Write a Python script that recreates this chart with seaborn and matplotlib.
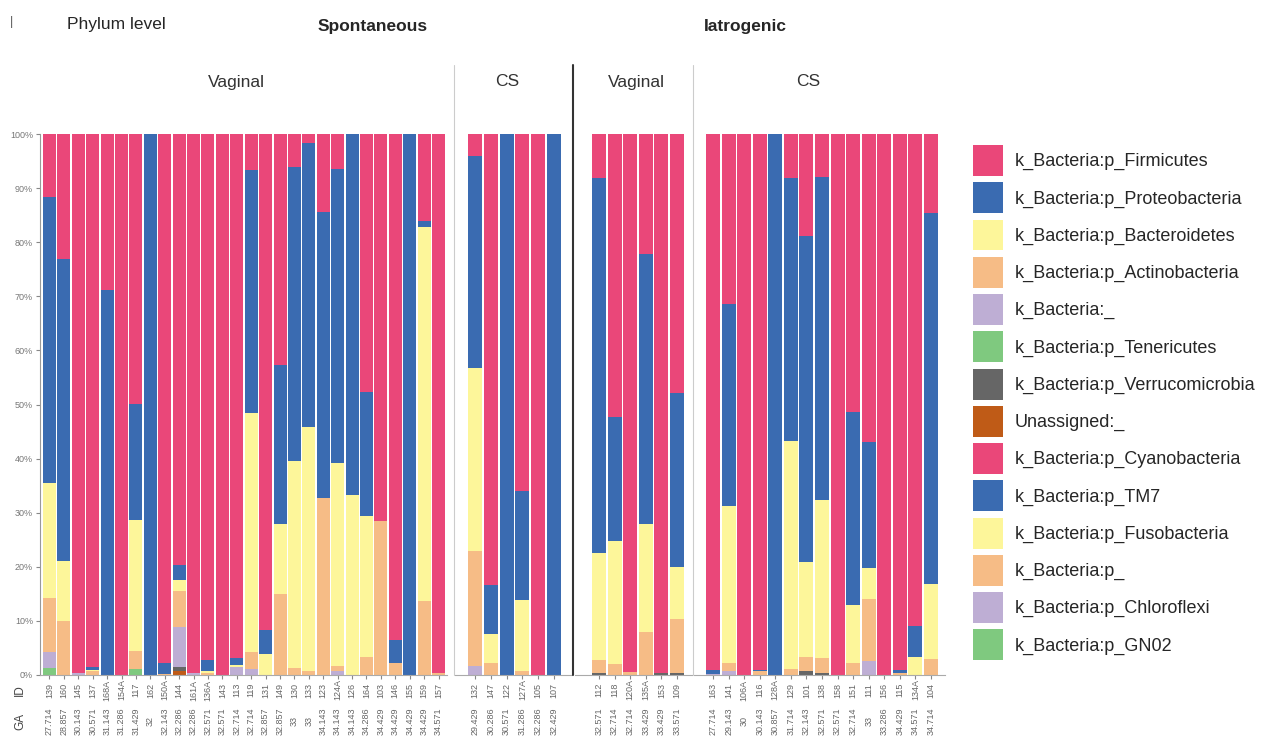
import matplotlib
matplotlib.use('Agg')
import matplotlib.pyplot as plt
import matplotlib.transforms as mtransforms
from matplotlib.lines import Line2D
from matplotlib.patches import Patch
import pandas as pd
import seaborn as sns

# sample IDs and gestational age (GA) for each facet
sv_ids = ['139', '160', '145', '137', '168A', '154A', '117', '162', '150A', '144', '161A', '136A', '143', '113',
          '119', '131', '149', '130', '133', '123', '124A', '126', '164', '103', '146', '155', '159', '157']
sv_ga = ['27.714', '28.857', '30.143', '30.571', '31.143', '31.286', '31.429', '32', '32.143', '32.286', '32.286',
         '32.571', '32.571', '32.714', '32.714', '32.857', '32.857', '33', '33', '34.143', '34.143', '34.143',
         '34.286', '34.429', '34.429', '34.429', '34.429', '34.571']
scs_ids = ['132', '147', '122', '127A', '105', '107']
scs_ga = ['29.429', '30.286', '30.571', '31.286', '32.286', '32.429']
iv_ids = ['112', '118', '120A', '135A', '153', '109']
iv_ga = ['32.571', '32.714', '32.714', '33.429', '33.429', '33.571']
ics_ids = ['163', '141', '106A', '116', '128A', '129', '101', '138', '158', '151', '111', '156', '115', '134A', '104']
ics_ga = ['27.714', '29.143', '30', '30.143', '30.857', '31.714', '32.143', '32.571', '32.571', '32.714', '33',
          '33.286', '34.429', '34.571', '34.714']

taxa = ['k_Bacteria:p_Firmicutes', 'k_Bacteria:p_Proteobacteria', 'k_Bacteria:p_Bacteroidetes',
        'k_Bacteria:p_Actinobacteria', 'k_Bacteria:_', 'k_Bacteria:p_Tenericutes',
        'k_Bacteria:p_Verrucomicrobia', 'Unassigned:_', 'k_Bacteria:p_Cyanobacteria', 'k_Bacteria:p_TM7',
        'k_Bacteria:p_Fusobacteria', 'k_Bacteria:p_', 'k_Bacteria:p_Chloroflexi', 'k_Bacteria:p_GN02']
colors = ['#EA4779', '#3A6BB1', '#FDF69A', '#F6BC86', '#BEAED4', '#7FC97F', '#666666', '#BF5B17',
          '#EA4779', '#3A6BB1', '#FDF69A', '#F6BC86', '#BEAED4', '#7FC97F']

# relative abundance (%) per sample, facets in order: spont vaginal / spont CS / iatro vaginal / iatro CS
firmicutes = [11.7, 23.1, 99.7, 98.5, 28.8, 100, 49.9, 0, 97.7, 79.7, 99.7, 97.2, 100, 96.8,
              6.6, 91.7, 42.7, 6.1, 1.6, 14.4, 6.4, 0, 47.6, 71.6, 93.5, 0, 16.1, 99.7,
              4.1, 83.3, 0, 65.9, 100, 0,
              8.1, 52.4, 99.5, 22.1, 99.7, 47.9,
              99.0, 31.5, 100, 99.0, 0, 8.1, 18.8, 7.9, 100, 51.3, 56.9, 100, 99.0, 90.9, 14.6]
proteobacteria = [52.8, 55.8, 0, 0.5, 71.2, 0, 21.5, 100, 2.1, 2.8, 0, 2.0, 0, 1.3,
                  45.0, 4.5, 29.4, 54.3, 52.6, 52.9, 54.4, 66.8, 23.0, 0, 4.2, 100, 1.0, 0,
                  39.2, 9.1, 100, 20.2, 0, 100,
                  69.3, 22.8, 0, 50.0, 0, 32.1,
                  0.8, 37.3, 0, 0.3, 100, 48.6, 60.4, 59.7, 0, 35.8, 23.3, 0, 0.7, 5.8, 68.5]
bacteroidetes = [21.3, 11.2, 0, 0.3, 0, 0, 24.1, 0, 0, 2.0, 0, 0.5, 0, 0.5,
                 44.2, 3.8, 13.0, 38.3, 45.1, 0, 37.5, 33.2, 26.0, 0, 0, 0, 69.3, 0,
                 33.7, 5.3, 0, 13.2, 0, 0,
                 19.8, 22.8, 0, 20.0, 0, 9.6,
                 0, 28.9, 0, 0, 0, 42.1, 17.5, 29.2, 0, 10.7, 5.8, 0, 0, 3.3, 13.9]
actinobacteria = [10.0, 9.9, 0, 0.7, 0, 0, 3.3, 0, 0.2, 6.6, 0, 0.3, 0, 0,
                  3.0, 0, 14.9, 1.3, 0.7, 32.7, 1.0, 0, 3.4, 28.4, 2.3, 0, 13.6, 0.3,
                  21.3, 2.3, 0, 0.7, 0, 0,
                  2.5, 2.0, 0.5, 7.9, 0, 10.1,
                  0, 1.5, 0, 0.7, 0, 1.2, 2.6, 2.9, 0, 2.2, 11.5, 0, 0.3, 0, 3.0]
k_bacteria = [2.9, 0, 0.3, 0, 0, 0, 0, 0, 0, 7.4, 0.3, 0, 0, 1.4,
              1.2, 0, 0, 0, 0, 0, 0.7, 0, 0, 0, 0, 0, 0, 0,
              1.7, 0, 0, 0, 0, 0,
              0, 0, 0, 0, 0, 0,
              0.2, 0.8, 0, 0, 0, 0, 0, 0, 0, 0, 2.5, 0, 0, 0, 0]
tenericutes = [1.3, 0, 0, 0, 0, 0, 1.2, 0, 0, 0, 0, 0, 0, 0,
               0, 0, 0, 0, 0, 0, 0, 0, 0, 0, 0, 0, 0, 0,
               0, 0, 0, 0, 0, 0,
               0, 0, 0, 0, 0, 0,
               0, 0, 0, 0, 0, 0, 0, 0, 0, 0, 0, 0, 0, 0, 0]
verrucomicrobia = [0, 0, 0, 0, 0, 0, 0, 0, 0, 0.7, 0, 0, 0, 0,
                   0, 0, 0, 0, 0, 0, 0, 0, 0, 0, 0, 0, 0, 0,
                   0, 0, 0, 0, 0, 0,
                   0.3, 0, 0, 0, 0.3, 0.3,
                   0, 0, 0, 0, 0, 0, 0.7, 0.3, 0, 0, 0, 0, 0, 0, 0]
unassigned = [0, 0, 0, 0, 0, 0, 0, 0, 0, 0.8, 0, 0, 0, 0,
              0, 0, 0, 0, 0, 0, 0, 0, 0, 0, 0, 0, 0, 0,
              0, 0, 0, 0, 0, 0,
              0, 0, 0, 0, 0, 0,
              0, 0, 0, 0, 0, 0, 0, 0, 0, 0, 0, 0, 0, 0, 0]

stack = [firmicutes, proteobacteria, bacteroidetes, actinobacteria, k_bacteria,
         tenericutes, verrucomicrobia, unassigned]
stack_cols = taxa[:len(stack)]

facets = [('Vaginal', sv_ids, sv_ga), ('CS', scs_ids, scs_ga),
          ('Vaginal', iv_ids, iv_ga), ('CS', ics_ids, ics_ga)]

df = pd.DataFrame({'id': sv_ids + scs_ids + iv_ids + ics_ids,
                   'facet': [0] * len(sv_ids) + [1] * len(scs_ids) + [2] * len(iv_ids) + [3] * len(ics_ids)})
for name, vals in zip(stack_cols, stack):
    df[name] = vals

sns.set_style('white')
plt.rcParams['font.family'] = ['Liberation Sans', 'DejaVu Sans']

W, H = 1274, 739
fig = plt.figure(figsize=(W / 100, H / 100), dpi=100)


def fx(px):
    return px / W


def fy(py):
    return 1 - py / H


# facet cell (axis extent) and bar extent, in pixels
cells = [(40, 447), (455, 572), (575, 692), (694, 945)]
bars = [(43, 445), (468, 561), (592, 684), (706, 938)]
strip_x = [236, 507, 636, 808]
top, bottom = 134, 675

for k, (label, ids, ga) in enumerate(facets):
    c0, c1 = cells[k]
    b0, b1 = bars[k]
    ax = fig.add_axes([fx(c0), fy(bottom), fx(c1) - fx(c0), fy(top) - fy(bottom)])
    sub = df[df.facet == k]
    for j in range(len(stack_cols)):
        d = pd.DataFrame({'id': sub['id'], 'cum': sub[stack_cols[j:]].sum(axis=1)})
        sns.barplot(data=d, x='id', y='cum', order=ids, color=colors[j], width=0.9,
                    saturation=1, errorbar=None, linewidth=0, ax=ax)
    n = len(ids)
    slot = (b1 - b0) / (n - 1 + 0.9)
    ax.set_xlim(-0.45 - (b0 - c0) / slot, n - 1 + 0.45 + (c1 - b1) / slot)
    ax.set_ylim(0, 100)
    ax.set_xlabel('')
    ax.set_ylabel('')
    for s in ['top', 'right', 'left']:
        ax.spines[s].set_visible(False)
    ax.spines['bottom'].set_color('#aaaaaa')
    ax.spines['bottom'].set_linewidth(0.8)
    ax.tick_params(axis='x', bottom=True, length=3, color='#888888', labelbottom=False)
    if k == 0:
        ax.spines['left'].set_visible(True)
        ax.spines['left'].set_color('#999999')
        ax.spines['left'].set_linewidth(0.8)
        ticks = list(range(0, 101, 10))
        ax.set_yticks(ticks)
        ax.set_yticklabels([f'{t}%' for t in ticks], fontsize=6.5, color='#777777')
        ax.tick_params(axis='y', left=True, length=3, color='#888888', pad=2)
    else:
        ax.set_yticks([])

    trans = mtransforms.blended_transform_factory(ax.transData, fig.transFigure)
    for i, (sid, g) in enumerate(zip(ids, ga)):
        ax.text(i, fy(690), sid, rotation=90, ha='center', va='center', fontsize=6.5,
                color='#666666', transform=trans)
        ax.text(i, fy(721), g, rotation=90, ha='center', va='center', fontsize=6.5,
                color='#666666', transform=trans)

    fig.text(fx(strip_x[k]), fy(82), label, ha='center', va='center', fontsize=12.5, color='#333333')

# facet separators
fig.add_artist(Line2D([fx(454), fx(454)], [fy(65), fy(675)], color='#cccccc', lw=0.8))
fig.add_artist(Line2D([fx(573), fx(573)], [fy(65), fy(675)], color='#333333', lw=1.5))
fig.add_artist(Line2D([fx(693), fx(693)], [fy(65), fy(675)], color='#cccccc', lw=0.8))

# row labels
fig.text(fx(20), fy(690), 'ID', rotation=90, ha='center', va='center', fontsize=8.5, color='#444444')
fig.text(fx(20), fy(721), 'GA', rotation=90, ha='center', va='center', fontsize=8.5, color='#444444')

# titles
fig.text(fx(12), fy(22), '|', ha='center', va='center', fontsize=9, color='#555555')
fig.text(fx(116), fy(25), 'Phylum level', ha='center', va='center', fontsize=12.5)
fig.text(fx(373), fy(27), 'Spontaneous', ha='center', va='center', fontsize=12.5, fontweight='bold')
fig.text(fx(745), fy(27), 'Iatrogenic', ha='center', va='center', fontsize=12.5, fontweight='bold')

handles = [Patch(facecolor=c, edgecolor='none') for c in colors]
fig.legend(handles, taxa, loc='upper left', bbox_to_anchor=(fx(973), fy(145)), frameon=False,
           fontsize=13, handlelength=1.65, handleheight=2.26, labelspacing=0.35, handletextpad=0.65,
           borderpad=0, borderaxespad=0)

fig.savefig('out.png', dpi=100)
